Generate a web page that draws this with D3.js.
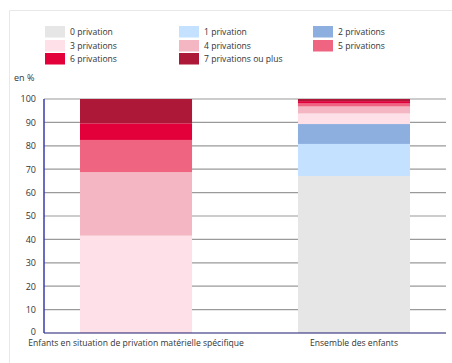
<!DOCTYPE html>
<html><head><meta charset="utf-8">
<script src="https://cdn.jsdelivr.net/npm/d3@7"></script>
<style>
html,body{margin:0;padding:0;background:#fff;}
text{font-family:"Open Sans","Noto Sans",sans-serif;}
</style></head>
<body>
<svg id="c" width="452" height="363"></svg>
<script>
const categories = ["Enfants en situation de privation matérielle spécifique", "Ensemble des enfants"];
const seriesNames = ["0 privation","1 privation","2 privations","3 privations","4 privations","5 privations","6 privations","7 privations ou plus"];
const seriesColors = ["#e6e6e6","#c4e1ff","#8cafe0","#fde0e8","#f4b6c2","#ee6481","#e3003a","#ad1838"];
const valuesSpecifique = [0, 0, 0, 41.6, 27.2, 13.7, 7.1, 10.4];
const valuesEnsemble = [67.1, 13.7, 8.5, 4.5, 3.0, 1.3, 1.0, 0.9];
const yTicks = [0,10,20,30,40,50,60,70,80,90,100];

const svg = d3.select("#c");
// frame
svg.append("line").attr("x1",9.5).attr("x2",452).attr("y1",10.5).attr("y2",10.5).attr("stroke","#e8e8e8");
svg.append("line").attr("x1",9.5).attr("x2",9.5).attr("y1",10.5).attr("y2",363).attr("stroke","#e8e8e8");

const x0 = 44, x1 = 446, yTop = 99, yBot = 333;
const x = d3.scaleBand().domain(categories).range([80, 410]).paddingInner(0.486).paddingOuter(0);
const y = d3.scaleLinear().domain([0,100]).range([yBot, yTop]);

// gridlines
svg.append("g").selectAll("line").data(yTicks.filter(d=>d>0)).join("line")
  .attr("x1",x0).attr("x2",x1).attr("y1",d=>y(d)).attr("y2",d=>y(d))
  .attr("stroke","#9a9a9a").attr("stroke-width",1.2);

// stacked data
const rows = categories.map((c,i)=>{
  const vals = i===0 ? valuesSpecifique : valuesEnsemble;
  const o = {cat:c};
  seriesNames.forEach((s,j)=>o[s]=vals[j]);
  return o;
});
const stack = d3.stack().keys(seriesNames)(rows);
svg.append("g").selectAll("g").data(stack).join("g")
  .attr("fill",(d,i)=>seriesColors[i])
  .selectAll("rect").data(d=>d).join("rect")
  .attr("x",d=>x(d.data.cat)).attr("width",x.bandwidth())
  .attr("y",d=>y(d[1])).attr("height",d=>Math.max(0,y(d[0])-y(d[1])));

// axes
svg.append("line").attr("x1",x0).attr("x2",x1).attr("y1",yBot).attr("y2",yBot).attr("stroke","#1a1a6e").attr("stroke-width",1.2);
svg.append("line").attr("x1",x0).attr("x2",x0).attr("y1",yTop).attr("y2",yBot).attr("stroke","#3a3aaa").attr("stroke-width",1.5);

const yAxis = d3.axisLeft(y).tickValues(yTicks).tickSize(0).tickPadding(8);
const gy = svg.append("g").attr("transform",`translate(${x0},0)`).call(yAxis);
gy.select(".domain").remove();
gy.selectAll("text").attr("font-size",9).attr("fill","#333").style("font-family","'Open Sans','Noto Sans',sans-serif");
gy.selectAll(".tick").filter(d=>d===0).select("text").attr("dy","0.2em");

const xAxis = d3.axisBottom(x).tickSize(0).tickPadding(7);
const gx = svg.append("g").attr("transform",`translate(0,${yBot})`).call(xAxis);
gx.select(".domain").remove();
gx.selectAll("text").attr("font-size",8.6).attr("fill","#333").style("font-family","'Open Sans','Noto Sans',sans-serif");

svg.append("text").attr("x",14).attr("y",81).attr("font-size",9).attr("fill","#333").text("en %");

// legend
const legX = [45,179,313], legY = [26,40,53];
const leg = svg.append("g").selectAll("g").data(seriesNames).join("g")
  .attr("transform",(d,i)=>`translate(${legX[i%3]},${legY[Math.floor(i/3)]})`);
leg.append("rect").attr("width",20).attr("height",11.5).attr("fill",(d,i)=>seriesColors[i]);
leg.append("text").attr("x",25).attr("y",9).attr("font-size",8.6).attr("fill","#333").text(d=>d);
</script>
</body></html>
